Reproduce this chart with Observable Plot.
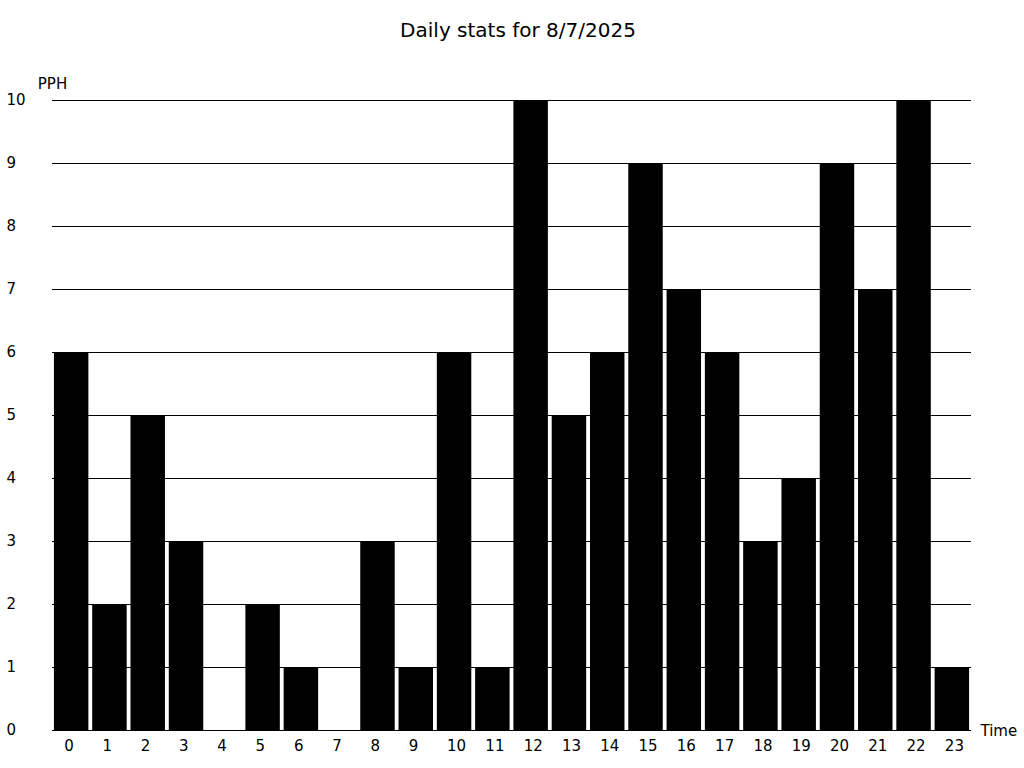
<!DOCTYPE html>
<html>
<head>
<meta charset="utf-8">
<script src="https://cdn.jsdelivr.net/npm/d3@7"></script>
<script src="https://cdn.jsdelivr.net/npm/@observablehq/plot@0.6"></script>
<style>
  html, body { margin: 0; padding: 0; background: #fff; }
  #title { height: 60px; width: 1024px; box-sizing: border-box; padding-left: 12px; text-align: center;
           font-family: "DejaVu Sans", sans-serif; font-size: 20px; line-height: 60px; color: #000; }
  #chart svg { display: block; }
</style>
</head>
<body>
<div id="title">Daily stats for 8/7/2025</div>
<div id="chart"></div>
<script>
const hours = ["0","1","2","3","4","5","6","7","8","9","10","11","12","13","14","15","16","17","18","19","20","21","22","23"];
const pph = [6,2,5,3,0,2,1,0,3,1,6,1,10,5,6,9,7,6,3,4,9,7,10,1];
const yTicks = [0,1,2,3,4,5,6,7,8,9,10];

const data = hours.map((h, i) => ({hour: h, value: pph[i]}));

const chart = Plot.plot({
  width: 1024,
  height: 708,
  marginLeft: 52,
  marginRight: 53,
  marginTop: 40,
  marginBottom: 38,
  style: {fontFamily: "DejaVu Sans, sans-serif", fontSize: "15px", color: "#000", background: "#fff"},
  x: {domain: hours, paddingInner: 0.1, paddingOuter: 0.05, round: false, label: null},
  y: {domain: [0, 10], label: null},
  marks: [
    Plot.ruleY(yTicks, {stroke: "#000", strokeWidth: 1}),
    Plot.barY(data, {x: "hour", y: "value", fill: "#000"}),
    Plot.axisY(yTicks, {tickSize: 0, textAnchor: "start", dx: -37, tickFormat: d => String(d), label: null, fill: "#000"}),
    Plot.axisX({tickSize: 0, tickPadding: 10, textAnchor: "start", dx: -7.5, label: null, fill: "#000"}),
    Plot.text(["PPH"], {frameAnchor: "top-left", dy: -22, textAnchor: "middle", fill: "#000"}),
    Plot.text(["Time"], {frameAnchor: "bottom-right", dx: 9, dy: 5, textAnchor: "start", fill: "#000"})
  ]
});
document.getElementById("chart").appendChild(chart);
</script>
</body>
</html>
